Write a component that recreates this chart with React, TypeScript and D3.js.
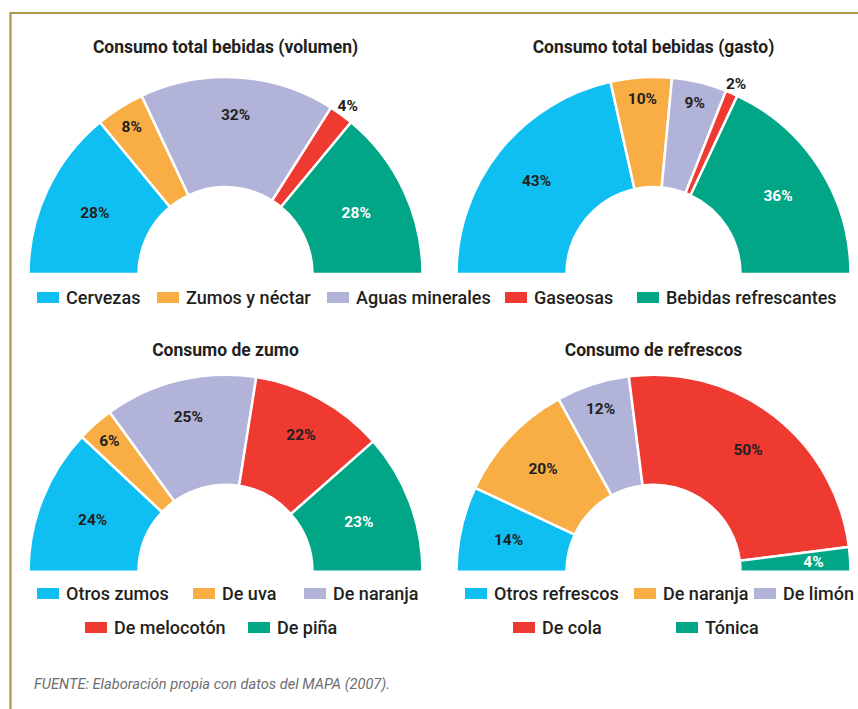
import React from 'react';
import * as d3 from 'd3';

const bebidasCategories = ['Cervezas', 'Zumos y néctar', 'Aguas minerales', 'Gaseosas', 'Bebidas refrescantes'];
const volumenValues = [28, 8, 32, 4, 28];
const gastoValues = [43, 10, 9, 2, 36];
const zumoCategories = ['Otros zumos', 'De uva', 'De naranja', 'De melocotón', 'De piña'];
const zumoValues = [24, 6, 25, 22, 23];
const refrescoCategories = ['Otros refrescos', 'De naranja', 'De limón', 'De cola', 'Tónica'];
const refrescoValues = [14, 20, 12, 50, 4];
const chartTitles = [
  'Consumo total bebidas (volumen)',
  'Consumo total bebidas (gasto)',
  'Consumo de zumo',
  'Consumo de refrescos',
];
const sourceNote = 'FUENTE: Elaboración propia con datos del MAPA (2007).';

const palette = ['#10bff1', '#f9ad45', '#b1b3d8', '#ee3a31', '#00a685'];
const insideLabelColor = ['#231f20', '#231f20', '#231f20', '#231f20', '#ffffff'];
const DARK = '#231f20';
const FONT = 'Roboto, "Noto Sans", sans-serif';

const R_OUT = 197;
const R_IN = 87;

type DonutProps = { cx: number; cy: number; values: number[]; title: string; titleY: number };

function HalfDonut({ cx, cy, values, title, titleY }: DonutProps) {
  const pie = d3
    .pie<number>()
    .sort(null)
    .value((d) => d)
    .startAngle(-Math.PI / 2)
    .endAngle(Math.PI / 2);
  const arc = d3.arc<d3.PieArcDatum<number>>().innerRadius(R_IN).outerRadius(R_OUT);
  const arcs = pie(values);
  const total = d3.sum(values);
  return (
    <g>
      <text
        x={cx}
        y={titleY}
        textAnchor="middle"
        fontFamily={FONT}
        fontWeight={700}
        fontSize={17.5}
        fill={DARK}
      >
        {title}
      </text>
      <g transform={`translate(${cx},${cy})`}>
        {arcs.map((a, i) => (
          <path key={i} d={arc(a) || ''} fill={palette[i]} stroke="#ffffff" strokeWidth={2.5} strokeLinejoin="miter" />
        ))}
        {arcs.map((a, i) => {
          const mid = (a.startAngle + a.endAngle) / 2;
          const p = a.value / total;
          const c = Math.cos(mid);
          const outside = p < 0.05 && c > 0.3;
          const r = outside ? 208 : 133 + 27 * c + (32 * Math.max(0, 0.2 - p)) / 0.2;
          const x = r * Math.sin(mid);
          const y = -r * Math.cos(mid);
          return (
            <text
              key={'l' + i}
              x={x}
              y={y}
              dy="0.36em"
              textAnchor="middle"
              fontFamily={FONT}
              fontWeight={700}
              fontSize={15.5}
              fill={outside ? DARK : insideLabelColor[i]}
            >
              {`${a.value}%`}
            </text>
          );
        })}
      </g>
    </g>
  );
}

type LegendItem = { label: string; color: string; x: number; y: number };

function Legend({ items }: { items: LegendItem[] }) {
  return (
    <g>
      {items.map((it, i) => (
        <g key={i}>
          <rect x={it.x} y={it.y - 5.5} width={22} height={11} fill={it.color} />
          <text x={it.x + 29} y={it.y} dy="0.36em" fontFamily={FONT} fontWeight={500} fontSize={18} fill={DARK}>
            {it.label}
          </text>
        </g>
      ))}
    </g>
  );
}

// legend layout (swatch left edges) per row
const topLegendX = [37, 157, 327, 505, 637];
const bottomRow1X = [37, 193, 304];
const bottomRow2X = [85, 248];

function buildBottomLegend(cats: string[], offset: number): LegendItem[] {
  return cats.map((c, i) => ({
    label: c,
    color: palette[i],
    x: offset + (i < 3 ? bottomRow1X[i] : bottomRow2X[i - 3]),
    y: i < 3 ? 593.5 : 627.5,
  }));
}

export default function App() {
  const W = 858;
  const H = 709;
  const topLegend: LegendItem[] = bebidasCategories.map((c, i) => ({
    label: c,
    color: palette[i],
    x: topLegendX[i],
    y: 297.5,
  }));
  const zumoLegend = buildBottomLegend(zumoCategories, 0);
  const refrescoLegendBase = buildBottomLegend(refrescoCategories, 428);
  const refrescoRow1X = [465, 634, 754];
  const refrescoLegend = refrescoLegendBase.map((it, i) => (i < 3 ? { ...it, x: refrescoRow1X[i] } : it));

  return (
    <svg
      width={W}
      height={H}
      viewBox={`0 0 ${W} ${H}`}
      style={{ position: 'absolute', left: 0, top: 0, background: '#ffffff' }}
    >
      <rect x={0} y={0} width={W} height={H} fill="#ffffff" />
      <path d={`M${10.5},${H} L${10.5},${13} L${W},${13}`} fill="none" stroke="#a8994f" strokeWidth={2.2} />
      <HalfDonut cx={225.5} cy={274} values={volumenValues} title={chartTitles[0]} titleY={53} />
      <HalfDonut cx={653.5} cy={274} values={gastoValues} title={chartTitles[1]} titleY={53} />
      <HalfDonut cx={225.5} cy={571.7} values={zumoValues} title={chartTitles[2]} titleY={355.5} />
      <HalfDonut cx={653.5} cy={571.7} values={refrescoValues} title={chartTitles[3]} titleY={355.5} />
      <Legend items={topLegend} />
      <Legend items={zumoLegend} />
      <Legend items={refrescoLegend} />
      <text x={34} y={688.5} fontFamily={FONT} fontStyle="italic" fontSize={14.6} fill="#6d6e71">
        {sourceNote}
      </text>
    </svg>
  );
}
